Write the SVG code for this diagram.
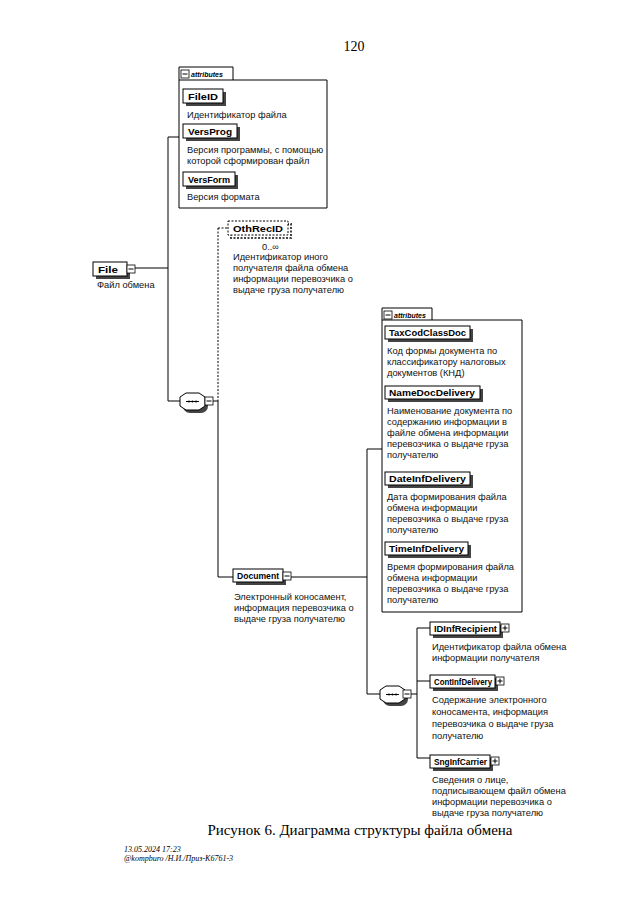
<svg xmlns="http://www.w3.org/2000/svg" width="640" height="905" viewBox="0 0 640 905">
<defs>
<style>
.t{font-family:"Liberation Sans",Arial,sans-serif;font-size:9.3px;fill:#111}
.n{font-family:"Liberation Sans",Arial,sans-serif;font-size:9.5px;font-weight:bold;fill:#000}
.a{font-family:"Liberation Sans",Arial,sans-serif;font-size:7px;font-weight:bold;font-style:italic;fill:#000}
.box{fill:#fff;stroke:#000;stroke-width:1}
.sh{fill:#444}
.ln{stroke:#000;stroke-width:1;fill:none}
.dl{stroke:#000;stroke-width:1;fill:none;stroke-dasharray:2,1.5}
.ic{fill:#fff;stroke:#000;stroke-width:0.8}
</style>
<g id="minus"><rect class="ic" x="0" y="0" width="8" height="8"/><line class="ln" x1="1.5" y1="4" x2="6.5" y2="4"/></g>
<g id="plus"><rect class="ic" x="0" y="0" width="8" height="8"/><line class="ln" x1="1.5" y1="4" x2="6.5" y2="4"/><line class="ln" x1="4" y1="1.5" x2="4" y2="6.5"/></g>
<g id="seq"><rect class="sh" x="3" y="3" width="25" height="17" rx="7"/><path class="box" d="M6,0 H19 L25,4 V13 L19,17 H6 L0,13 V4 Z"/><line class="ln" x1="6" y1="8.5" x2="19" y2="8.5"/><circle cx="9" cy="8.5" r="1"/><circle cx="12.5" cy="8.5" r="1"/><circle cx="16" cy="8.5" r="1"/></g>
</defs>
<rect width="640" height="905" fill="#fff"/>
<text x="354" y="51" font-family="Liberation Serif,serif" font-size="14" text-anchor="middle">120</text>

<g id="connectors">
<line class="ln" x1="135" y1="268" x2="168" y2="268"/>
<line class="ln" x1="168" y1="137" x2="168" y2="401"/>
<line class="ln" x1="168" y1="137" x2="179" y2="137"/>
<line class="ln" x1="168" y1="401" x2="180" y2="401"/>
<line class="ln" x1="212" y1="401" x2="218" y2="401"/>
<line class="dl" x1="218" y1="228" x2="218" y2="401"/>
<line class="dl" x1="218" y1="228" x2="228" y2="228"/>
<line class="ln" x1="218" y1="401" x2="218" y2="577"/>
<line class="ln" x1="218" y1="577" x2="233" y2="577"/>
<line class="ln" x1="291" y1="577" x2="367" y2="577"/>
<line class="ln" x1="367" y1="449" x2="367" y2="694"/>
<line class="ln" x1="367" y1="449" x2="382" y2="449"/>
<line class="ln" x1="367" y1="694" x2="380" y2="694"/>
<line class="ln" x1="410" y1="694" x2="417" y2="694"/>
<line class="ln" x1="417" y1="628" x2="417" y2="758"/>
<line class="ln" x1="417" y1="628" x2="430" y2="628"/>
<line class="ln" x1="417" y1="681" x2="430" y2="681"/>
<line class="ln" x1="417" y1="758" x2="430" y2="758"/>
</g>

<g id="attributes1">
<path class="box" d="M179,208 V67 H233 V80 H327 V208 Z"/>
<line class="ln" x1="179" y1="80" x2="233" y2="80"/>
<use href="#minus" x="181" y="70"/>
<text class="a" x="191" y="77">attributes</text>
</g>
<g id="FileID">
<rect class="sh" x="186" y="92" width="40" height="14"/>
<rect class="box" x="183" y="89" width="40" height="14"/>
<text class="n" x="188" y="100" textLength="30" lengthAdjust="spacingAndGlyphs">FileID</text>
<text class="t" x="187" y="118">Идентификатор файла</text>
</g>
<g id="VersProg">
<rect class="sh" x="186" y="127" width="54" height="14"/>
<rect class="box" x="183" y="124" width="54" height="14"/>
<text class="n" x="188" y="135" textLength="44" lengthAdjust="spacingAndGlyphs">VersProg</text>
<text class="t" x="187" y="153">Версия программы, с помощью</text>
<text class="t" x="187" y="164">которой сформирован файл</text>
</g>
<g id="VersForm">
<rect class="sh" x="186" y="175" width="52" height="14"/>
<rect class="box" x="183" y="172" width="52" height="14"/>
<text class="n" x="188" y="183" textLength="42" lengthAdjust="spacingAndGlyphs">VersForm</text>
<text class="t" x="187" y="200">Версия формата</text>
</g>

<g id="File">
<rect class="sh" x="96" y="265" width="34" height="14"/>
<rect class="box" x="93" y="262" width="34" height="14"/>
<text class="n" x="98" y="273" textLength="20" lengthAdjust="spacingAndGlyphs">File</text>
<use href="#minus" x="127" y="265"/>
<text class="t" x="97" y="288">Файл обмена</text>
</g>

<g id="sequence1"><use href="#seq" x="180" y="393"/><use href="#minus" x="205" y="397"/></g>

<g id="OthRecID">
<rect x="231" y="224" width="60" height="14" fill="none" stroke="#444" stroke-width="2" stroke-dasharray="2,1.5"/>
<rect x="228" y="221" width="60" height="14" fill="#fff" stroke="#000" stroke-dasharray="2,1.5"/>
<text class="n" x="233" y="232" textLength="50" lengthAdjust="spacingAndGlyphs">OthRecID</text>
<text class="t" x="262" y="250">0..∞</text>
<text class="t" x="233" y="260">Идентификатор иного</text>
<text class="t" x="233" y="271">получателя файла обмена</text>
<text class="t" x="233" y="282">информации перевозчика о</text>
<text class="t" x="233" y="293">выдаче груза получателю</text>
</g>

<g id="Document">
<rect class="sh" x="236" y="572" width="50" height="13"/>
<rect class="box" x="233" y="569" width="50" height="13"/>
<text class="n" x="237" y="579" textLength="42" lengthAdjust="spacingAndGlyphs">Document</text>
<use href="#minus" x="283" y="572"/>
<text class="t" x="234" y="600">Электронный коносамент,</text>
<text class="t" x="234" y="611">информация перевозчика о</text>
<text class="t" x="234" y="622">выдаче груза получателю</text>
</g>

<g id="attributes2">
<path class="box" d="M382,612 V308 H432 V320 H522 V612 Z"/>
<line class="ln" x1="382" y1="320" x2="432" y2="320"/>
<use href="#minus" x="384" y="311"/>
<text class="a" x="394" y="318">attributes</text>
</g>
<g id="TaxCodClassDoc">
<rect class="sh" x="388" y="329" width="85" height="13"/>
<rect class="box" x="385" y="326" width="85" height="13"/>
<text class="n" x="389" y="336" textLength="77" lengthAdjust="spacingAndGlyphs">TaxCodClassDoc</text>
<text class="t" x="387" y="354">Код формы документа по</text>
<text class="t" x="387" y="365">классификатору налоговых</text>
<text class="t" x="387" y="376">документов (КНД)</text>
</g>
<g id="NameDocDelivery">
<rect class="sh" x="388" y="389" width="95" height="13"/>
<rect class="box" x="385" y="386" width="95" height="13"/>
<text class="n" x="389" y="396" textLength="86" lengthAdjust="spacingAndGlyphs">NameDocDelivery</text>
<text class="t" x="387" y="414">Наименование документа по</text>
<text class="t" x="387" y="425">содержанию информации в</text>
<text class="t" x="387" y="436">файле обмена информации</text>
<text class="t" x="387" y="447">перевозчика о выдаче груза</text>
<text class="t" x="387" y="458">получателю</text>
</g>
<g id="DateInfDelivery">
<rect class="sh" x="388" y="475" width="85" height="13"/>
<rect class="box" x="385" y="472" width="85" height="13"/>
<text class="n" x="389" y="482" textLength="77" lengthAdjust="spacingAndGlyphs">DateInfDelivery</text>
<text class="t" x="387" y="500">Дата формирования файла</text>
<text class="t" x="387" y="511">обмена информации</text>
<text class="t" x="387" y="522">перевозчика о выдаче груза</text>
<text class="t" x="387" y="533">получателю</text>
</g>
<g id="TimeInfDelivery">
<rect class="sh" x="388" y="545" width="83" height="13"/>
<rect class="box" x="385" y="542" width="83" height="13"/>
<text class="n" x="389" y="552" textLength="75" lengthAdjust="spacingAndGlyphs">TimeInfDelivery</text>
<text class="t" x="387" y="570">Время формирования файла</text>
<text class="t" x="387" y="581">обмена информации</text>
<text class="t" x="387" y="592">перевозчика о выдаче груза</text>
<text class="t" x="387" y="603">получателю</text>
</g>

<g id="sequence2"><use href="#seq" x="380" y="686"/><use href="#minus" x="403" y="690"/></g>

<g id="IDInfRecipient">
<rect class="sh" x="433" y="625" width="70" height="13"/>
<rect class="box" x="430" y="622" width="70" height="13"/>
<text class="n" x="434" y="632" textLength="63" lengthAdjust="spacingAndGlyphs">IDInfRecipient</text>
<use href="#plus" x="501" y="624"/>
<text class="t" x="432" y="650">Идентификатор файла обмена</text>
<text class="t" x="432" y="661">информации получателя</text>
</g>
<g id="ContInfDelivery">
<rect class="sh" x="433" y="678" width="65" height="13"/>
<rect class="box" x="430" y="675" width="65" height="13"/>
<text class="n" x="434" y="685" textLength="58" lengthAdjust="spacingAndGlyphs">ContInfDelivery</text>
<use href="#plus" x="496" y="677"/>
<text class="t" x="432" y="703">Содержание электронного</text>
<text class="t" x="432" y="715">коносамента, информация</text>
<text class="t" x="432" y="727">перевозчика о выдаче груза</text>
<text class="t" x="432" y="739">получателю</text>
</g>
<g id="SngInfCarrier">
<rect class="sh" x="433" y="758" width="60" height="13"/>
<rect class="box" x="430" y="755" width="60" height="13"/>
<text class="n" x="434" y="765" textLength="53" lengthAdjust="spacingAndGlyphs">SngInfCarrier</text>
<use href="#plus" x="491" y="757"/>
<text class="t" x="432" y="783">Сведения о лице,</text>
<text class="t" x="432" y="794">подписывающем файл обмена</text>
<text class="t" x="432" y="805">информации перевозчика о</text>
<text class="t" x="432" y="816">выдаче груза получателю</text>
</g>

<text x="360" y="835" font-family="Liberation Serif,serif" font-size="15" text-anchor="middle">Рисунок 6. Диаграмма структуры файла обмена</text>
<text x="124" y="852" font-family="Liberation Serif,serif" font-size="8" font-style="italic">13.05.2024 17:23</text>
<text x="124" y="861" font-family="Liberation Serif,serif" font-size="8" font-style="italic">@kompburo /Н.И./Приз-К6761-3</text>
</svg>
